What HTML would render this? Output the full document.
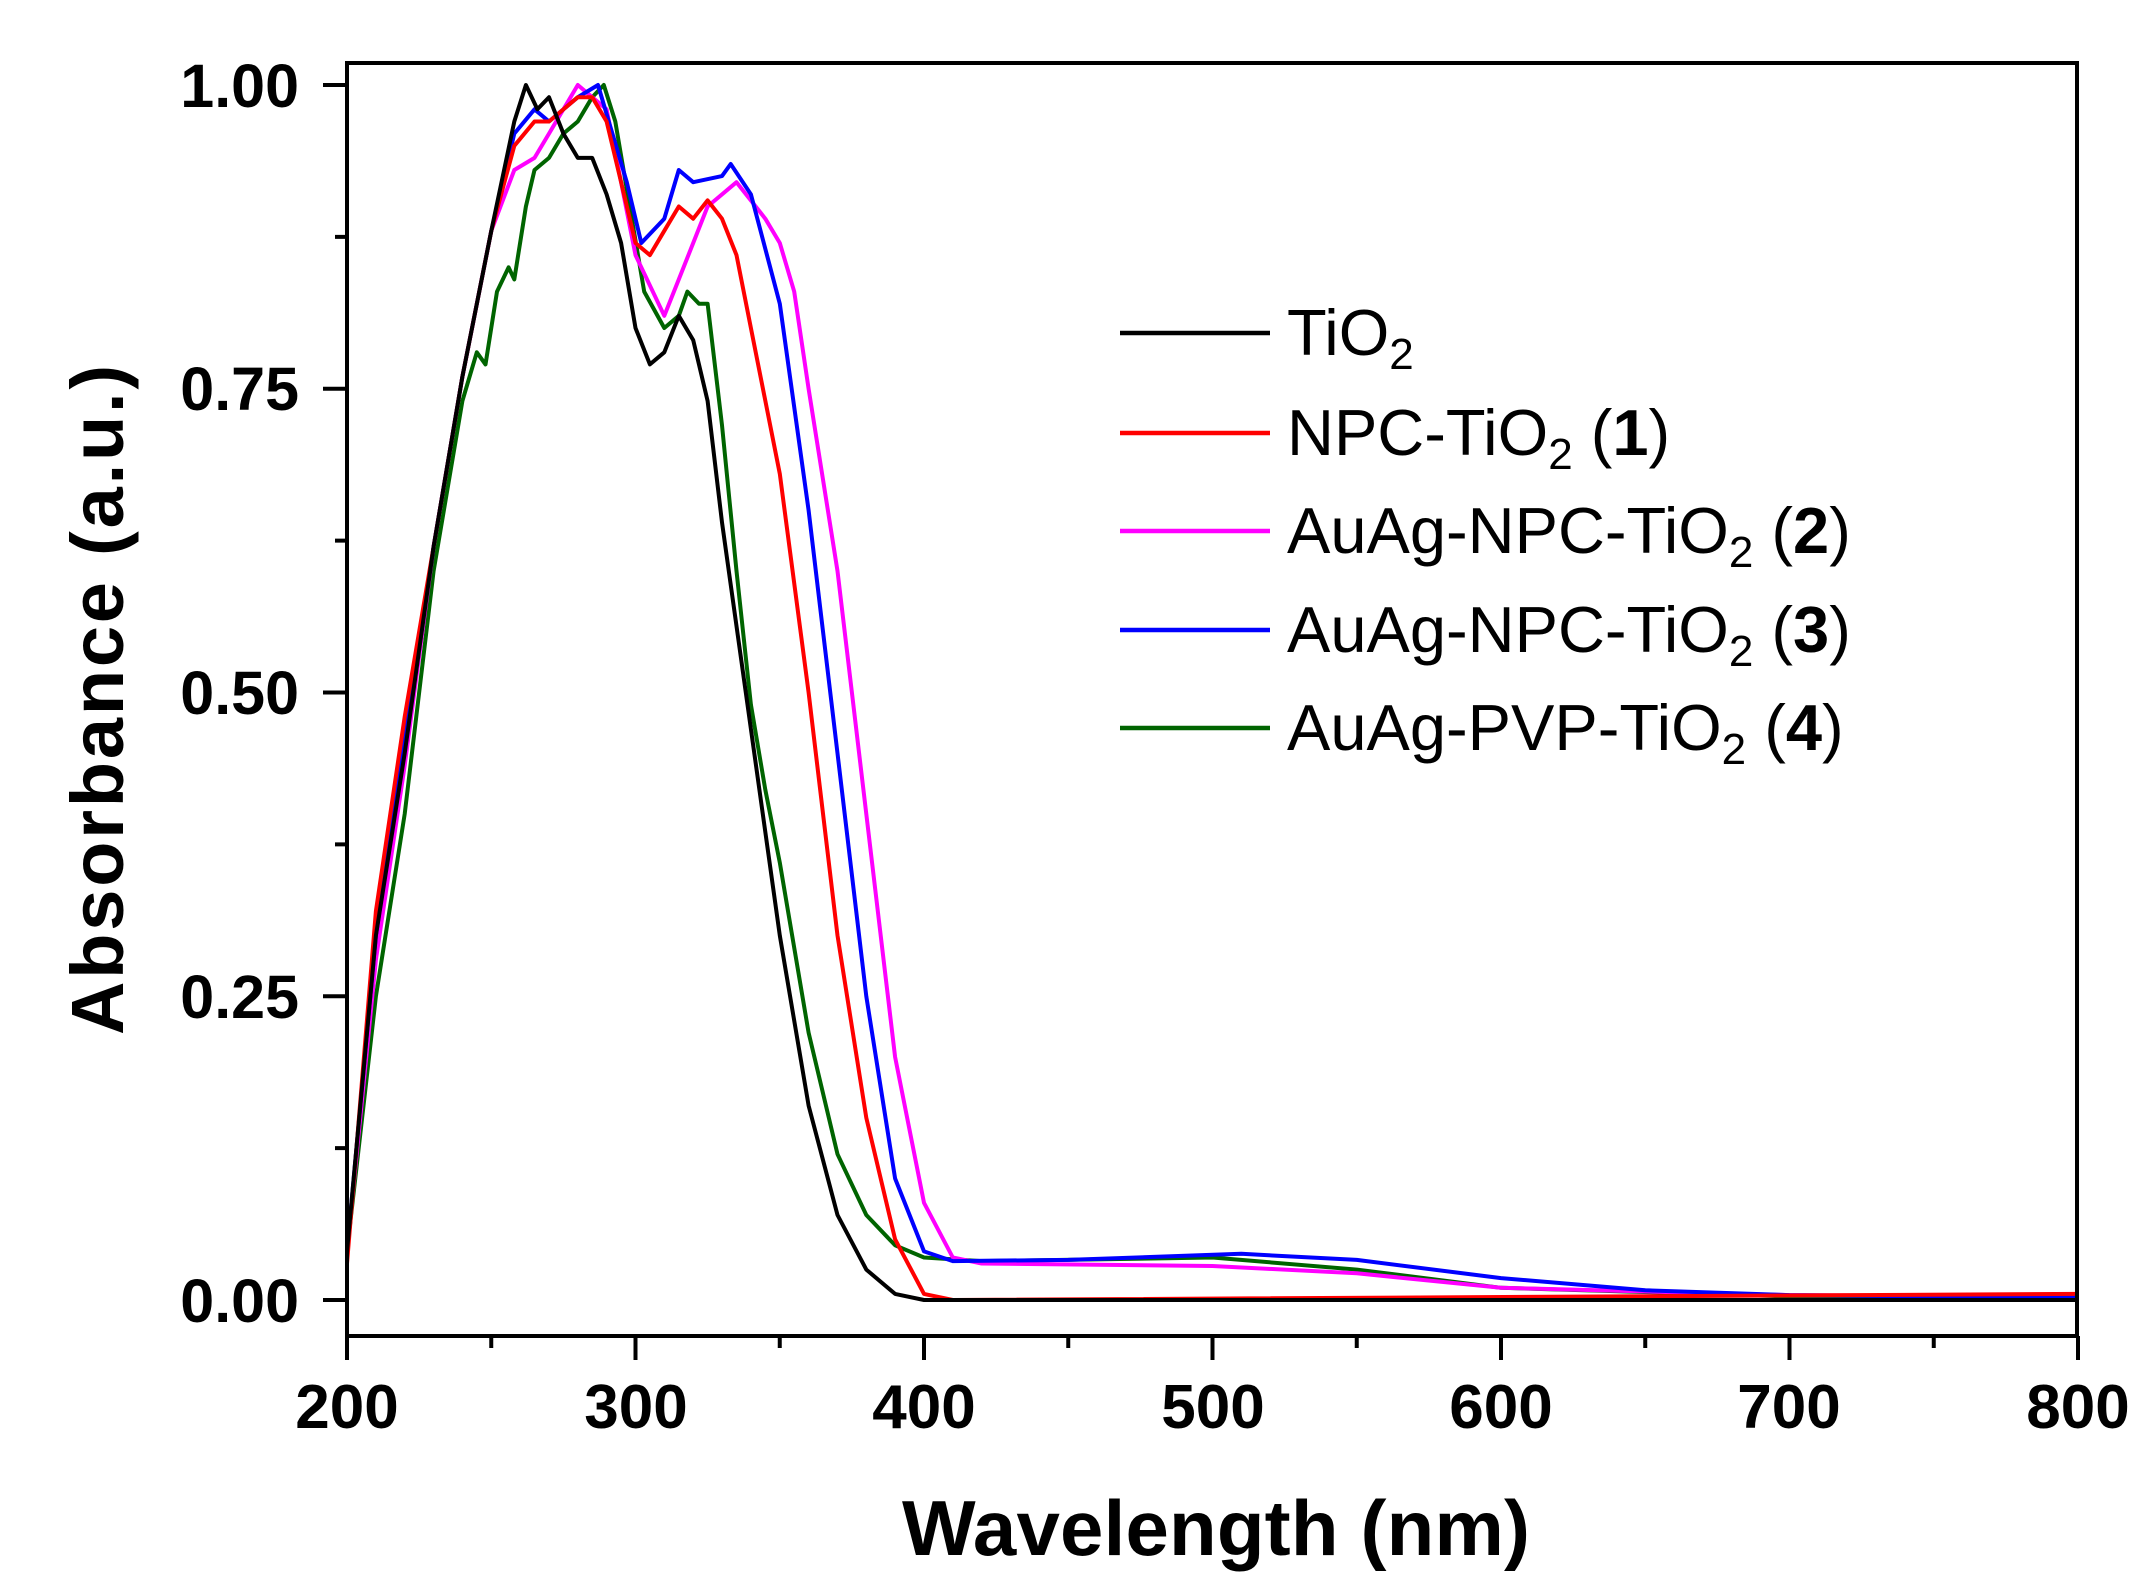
<!DOCTYPE html>
<html><head><meta charset="utf-8"><style>
html,body{margin:0;padding:0;background:#fff;}
svg{display:block;}
text{font-family:"Liberation Sans",Arial,sans-serif;}
</style></head><body>
<svg id="s" width="2156" height="1589" viewBox="0 0 2156 1589" xmlns="http://www.w3.org/2000/svg">
<rect width="2156" height="1589" fill="#fff"/>
<g id="curves" fill="none" stroke-width="4" stroke-linejoin="round"></g>
<rect x="347" y="63" width="1730" height="1273" fill="none" stroke="#000" stroke-width="4"/>
<g id="ticks" stroke="#000" stroke-width="4"></g>
<g font-weight="bold" font-size="61" fill="#000">
<text x="299" y="107" text-anchor="end">1.00</text>
<text x="299" y="410" text-anchor="end">0.75</text>
<text x="299" y="714" text-anchor="end">0.50</text>
<text x="299" y="1018" text-anchor="end">0.25</text>
<text x="299" y="1322" text-anchor="end">0.00</text>
</g>
<g font-weight="bold" font-size="62" fill="#000" text-anchor="middle">
<text x="347" y="1428">200</text>
<text x="636" y="1428">300</text>
<text x="924" y="1428">400</text>
<text x="1213" y="1428">500</text>
<text x="1501" y="1428">600</text>
<text x="1789" y="1428">700</text>
<text x="2078" y="1428">800</text>
</g>
<text x="1216" y="1555" text-anchor="middle" font-weight="bold" font-size="78" textLength="628">Wavelength (nm)</text>
<text transform="translate(123,700) rotate(-90)" text-anchor="middle" font-weight="bold" font-size="74" textLength="670">Absorbance (a.u.)</text>
<g stroke-width="4.5">
<line x1="1120" y1="333" x2="1270" y2="333" stroke="#000"/>
<line x1="1120" y1="433" x2="1270" y2="433" stroke="#f00"/>
<line x1="1120" y1="531" x2="1270" y2="531" stroke="#f0f"/>
<line x1="1120" y1="630" x2="1270" y2="630" stroke="#00f"/>
<line x1="1120" y1="728" x2="1270" y2="728" stroke="#006400"/>
</g>
<g font-size="65" fill="#000">
<text x="1287" y="355">TiO<tspan font-size="44" dy="14">2</tspan></text>
<text x="1287" y="455">NPC-TiO<tspan font-size="44" dy="14">2</tspan><tspan dy="-14"> (</tspan><tspan font-weight="bold">1</tspan>)</text>
<text x="1287" y="553">AuAg-NPC-TiO<tspan font-size="44" dy="14">2</tspan><tspan dy="-14"> (</tspan><tspan font-weight="bold">2</tspan>)</text>
<text x="1287" y="652">AuAg-NPC-TiO<tspan font-size="44" dy="14">2</tspan><tspan dy="-14"> (</tspan><tspan font-weight="bold">3</tspan>)</text>
<text x="1287" y="750">AuAg-PVP-TiO<tspan font-size="44" dy="14">2</tspan><tspan dy="-14"> (</tspan><tspan font-weight="bold">4</tspan>)</text>
</g>
</svg>
<script>
var X=function(w){return 347+(w-200)*2.885;},Y=function(a){return 1300-a*1215;};
var t=document.getElementById("ticks"),h="";
for(var w=200;w<=800;w+=50){var maj=(w%100==0);h+='<line x1="'+X(w)+'" y1="1336" x2="'+X(w)+'" y2="'+(1336+(maj?24:12))+'"/>';}
for(var i=0;i<=8;i++){var a=i*0.125,maj=(i%2==0);h+='<line x1="347" y1="'+Y(a)+'" x2="'+(347-(maj?24:12))+'" y2="'+Y(a)+'"/>';}
t.innerHTML=h;
var D={
"#006400":[200,0.04,210,0.25,220,0.4,230,0.6,240,0.74,245,0.78,248,0.77,252,0.83,256,0.85,258,0.84,262,0.9,265,0.93,270,0.94,275,0.96,280,0.97,285,0.99,289,1.0,293,0.97,298,0.9,303,0.83,310,0.8,315,0.81,318,0.83,322,0.82,325,0.82,330,0.72,335,0.6,340,0.49,345,0.42,350,0.36,360,0.22,370,0.12,380,0.07,390,0.045,400,0.035,420,0.032,500,0.035,550,0.025,600,0.01,700,0.003,800,0.002],
"#f0f":[200,0.04,210,0.28,220,0.44,230,0.62,240,0.76,250,0.88,258,0.93,265,0.94,270,0.96,280,1.0,285,0.99,290,0.98,295,0.92,300,0.86,310,0.81,315,0.84,320,0.87,325,0.9,335,0.92,345,0.89,350,0.87,355,0.83,360,0.75,370,0.6,380,0.4,390,0.2,400,0.08,410,0.035,420,0.03,500,0.028,550,0.022,600,0.01,700,0.004,800,0.003],
"#00f":[200,0.04,210,0.3,220,0.46,230,0.62,240,0.76,250,0.88,258,0.96,265,0.98,270,0.97,280,0.99,287,1.0,292,0.96,297,0.92,302,0.87,310,0.89,315,0.93,320,0.92,330,0.925,333,0.935,340,0.91,350,0.82,360,0.65,370,0.45,380,0.25,390,0.1,400,0.04,410,0.032,450,0.033,510,0.038,550,0.033,600,0.018,650,0.008,700,0.004,800,0.002],
"#f00":[200,0.03,210,0.32,220,0.48,230,0.62,240,0.76,250,0.88,258,0.95,265,0.97,270,0.97,280,0.99,285,0.99,290,0.97,295,0.92,300,0.87,305,0.86,310,0.88,315,0.9,320,0.89,325,0.905,330,0.89,335,0.86,340,0.8,350,0.68,360,0.5,370,0.3,380,0.15,390,0.05,400,0.005,410,0,800,0.005],
"#000":[200,0.04,210,0.3,220,0.45,230,0.62,240,0.76,250,0.88,258,0.97,262,1.0,266,0.98,270,0.99,275,0.96,280,0.94,285,0.94,290,0.91,295,0.87,300,0.8,305,0.77,310,0.78,315,0.81,320,0.79,325,0.74,330,0.64,340,0.47,350,0.3,360,0.16,370,0.07,380,0.025,390,0.005,400,0,800,0]
};
var g=document.getElementById("curves"),s="";
for(var c in D){var d=D[c],p="";for(var k=0;k<d.length;k+=2)p+=(k?"L":"M")+X(d[k]).toFixed(1)+","+Y(d[k+1]).toFixed(1);s+='<path stroke="'+c+'" d="'+p+'"/>';}
g.innerHTML=s;
</script>
</body></html>
